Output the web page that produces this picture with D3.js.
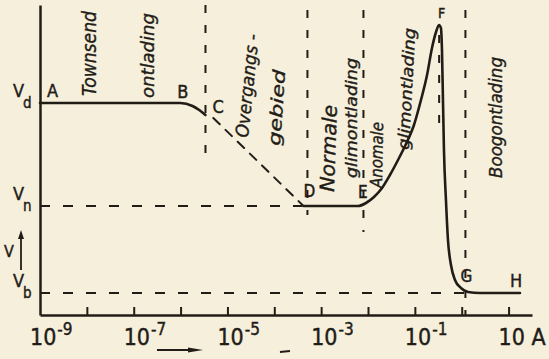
<!DOCTYPE html>
<html>
<head>
<meta charset="utf-8">
<script src="https://cdn.jsdelivr.net/npm/d3@7"></script>
<style>
  body { margin: 0; background: #f6efdc; }
  svg { display: block; }
  .lbl { font-family: "Liberation Sans Narrow", "DejaVu Sans Condensed", sans-serif; fill: #221c17; stroke: #221c17; stroke-width: 0.4; }
  .hand { font-family: "DejaVu Sans Condensed", "DejaVu Sans", sans-serif; font-style: italic; fill: #221c17; stroke: #221c17; stroke-width: 0.35; }
</style>
</head>
<body>
<div id="chart"></div>
<script>
// Discharge characteristic: current (A, log) against voltage (arbitrary units)

// Townsend ontlading A -> B -> C
const townsendI = [1e-9, 9.8e-7, 1.8e-6, 2.5e-6, 3.4e-6];
const townsendV = [21.2, 21.2, 20.9, 20.5, 20.0];

// overgangsgebied (dashed) C -> D
const overgangI = [5.0e-6, 4.0e-4];
const overgangV = [19.7, 11.0];

// glimontlading + boogontlading D -> E -> F -> G -> H
const glowI = [4.2e-4, 6.1e-3, 9.06e-3, 0.0134, 0.0199, 0.0294, 0.0437, 0.0646, 0.0957, 0.135,
               0.182, 0.232, 0.283, 0.327, 0.360, 0.379, 0.398, 0.418, 0.461, 0.509,
               0.590, 0.718, 0.964, 1.36, 2.45, 17.5];
const glowV = [10.9, 10.9, 11.2, 11.8, 12.7, 14.0, 15.5, 17.1, 19.0, 21.5,
               24.0, 26.7, 28.3, 29.0, 28.7, 26.5, 21.5, 16.5, 11.5, 7.5,
               5.0, 3.5, 2.7, 2.3, 2.2, 2.2];

// voltage levels V_d, V_n, V_b
const levelNames = ["d", "n", "b"];
const levelV = [21.2, 10.9, 2.2];
// dashed level lines (V_n, V_b) and where they stop
const dashLevelV = [10.9, 2.2];
const dashLevelEndI = [4.0e-4, 1.2];

// vertical dashed boundaries between regions
const boundaryI = [3.4e-6, 5.1e-4, 8.0e-3, 0.33, 1.2];
const boundaryTopV = [31, 30.5, 30.5, 28, 30.5];
const boundaryBottomV = [16.2, 10.0, 8.3, 18.5, 0];

// named points on the curve
const pointNames = ["A", "B", "C", "D", "E", "F", "G", "H"];
const pointI = [1e-9, 9.8e-7, 3.4e-6, 4.2e-4, 6.1e-3, 0.327, 1.2, 17.5];
const pointV = [21.2, 21.2, 20.0, 10.9, 10.9, 29.0, 2.2, 2.2];

// labelled decades on the current axis
const tickExp = [-9, -7, -5, -3, -1, 1];

// region names
const regionNames = ["Townsend", "ontlading", "Overgangs -", "gebied", "Normale",
                     "glimontlading", "Anomale", "glimontlading", "Boogontlading"];

const width = 549, height = 359;
const ink = "#221c17";

const svg = d3.select("#chart").append("svg")
    .attr("width", width)
    .attr("height", height);

const x = d3.scaleLog().domain([1e-9, Math.pow(10, 1.5)]).range([40, 532]);
const y = d3.scaleLinear().domain([0, 31]).range([315, 5]);

// axes
const decades = d3.range(-8, 2).map(e => Math.pow(10, e));
const xAxis = svg.append("g")
    .attr("transform", "translate(0," + y(0) + ")")
    .call(d3.axisBottom(x).tickValues(decades).tickSize(-8).tickSizeOuter(0).tickFormat(""));
const yAxis = svg.append("g")
    .attr("transform", "translate(" + x(1e-9) + ",0)")
    .call(d3.axisLeft(y).tickValues([]).tickSizeOuter(0));
[xAxis, yAxis].forEach(g => {
    g.select(".domain").attr("stroke", ink).attr("stroke-width", 2.5);
    g.selectAll(".tick line").attr("stroke", ink).attr("stroke-width", 2);
});

// dashed level lines
svg.selectAll(".level")
    .data(dashLevelV)
    .enter().append("line")
    .attr("x1", x(1e-9))
    .attr("x2", (d, i) => x(dashLevelEndI[i]))
    .attr("y1", d => y(d))
    .attr("y2", d => y(d))
    .attr("stroke", ink)
    .attr("stroke-width", 2)
    .attr("stroke-dasharray", "10,13");

// dashed boundaries
svg.selectAll(".boundary")
    .data(boundaryI)
    .enter().append("line")
    .attr("x1", d => x(d))
    .attr("x2", d => x(d))
    .attr("y1", (d, i) => y(boundaryTopV[i]))
    .attr("y2", (d, i) => y(boundaryBottomV[i]))
    .attr("stroke", ink)
    .attr("stroke-width", 2)
    .attr("stroke-dasharray", "8,12");

// curves
const line = d3.line()
    .x(d => x(d[0]))
    .y(d => y(d[1]))
    .curve(d3.curveMonotoneX);

function drawCurve(I, V, dash) {
    svg.append("path")
        .datum(I.map((v, i) => [v, V[i]]))
        .attr("d", line)
        .attr("fill", "none")
        .attr("stroke", ink)
        .attr("stroke-width", dash ? 2 : 2.6)
        .attr("stroke-linecap", "round")
        .attr("stroke-dasharray", dash ? "9,8" : null);
}
drawCurve(townsendI, townsendV, false);
drawCurve(overgangI, overgangV, true);
drawCurve(glowI, glowV, false);

// point labels (offsets from the point, in px)
const pointDx = [7, -3, 7, 0, 0, -1, -5, -10];
const pointDy = [-6, -5, -2, -9, -8, -7, -11, -6];
const pointSize = [18, 18, 18, 17, 17, 14, 17, 18];
svg.selectAll(".pt")
    .data(pointNames)
    .enter().append("text")
    .attr("class", "lbl")
    .attr("x", (d, i) => x(pointI[i]) + pointDx[i])
    .attr("y", (d, i) => y(pointV[i]) + pointDy[i])
    .attr("font-size", (d, i) => pointSize[i])
    .text(d => d);

// V_d, V_n, V_b on the left
const levels = svg.selectAll(".lev")
    .data(levelNames)
    .enter().append("text")
    .attr("class", "lbl")
    .attr("x", 13)
    .attr("y", (d, i) => y(levelV[i]) - 6)
    .attr("font-size", 18);
levels.append("tspan").text("V");
levels.append("tspan").attr("font-size", 15).attr("dy", 11).attr("dx", -1).text(d => d);

// V with an arrow
svg.append("text").attr("class", "lbl").attr("x", 4).attr("y", 257).attr("font-size", 16).text("V");
svg.append("line").attr("x1", 21).attr("x2", 21).attr("y1", 270).attr("y2", 236)
    .attr("stroke", ink).attr("stroke-width", 1.8);
svg.append("path").attr("d", "M18,239L21,230L24,239Z").attr("fill", ink);

// decade labels
const tl = svg.selectAll(".tl")
    .data(tickExp)
    .enter().append("text")
    .attr("class", "lbl")
    .attr("x", d => x(Math.pow(10, d)) - 10)
    .attr("y", 345)
    .attr("font-size", 23);
tl.append("tspan").text("10");
tl.filter(d => d < 0).append("tspan")
    .attr("font-size", 17).attr("dy", -10).attr("dx", 1)
    .text(d => "-" + (-d));
tl.filter(d => d > 0).append("tspan").text(" A");

// current arrow below the axis
svg.append("line").attr("x1", 157).attr("x2", 196).attr("y1", 350).attr("y2", 350)
    .attr("stroke", ink).attr("stroke-width", 1.8);
svg.append("path").attr("d", "M188,347.5L203,350L188,352.5Z").attr("fill", ink);
svg.append("line").attr("x1", 280).attr("x2", 290).attr("y1", 352).attr("y2", 351)
    .attr("stroke", ink).attr("stroke-width", 2);

// region names, rotated hand lettering
const regionPos = [
    {x: 96, y: 96, a: -90, L: 85, s: 20},
    {x: 154, y: 98, a: -90, L: 85, s: 18},
    {x: 248, y: 138, a: -84, L: 104, s: 18},
    {x: 280, y: 146, a: -86, L: 76, s: 17},
    {x: 334, y: 192, a: -88, L: 87, s: 20},
    {x: 357, y: 178, a: -90, L: 120, s: 16},
    {x: 382, y: 188, a: -89, L: 66, s: 17},
    {x: 409, y: 150, a: -87, L: 122, s: 16},
    {x: 502, y: 178, a: -90, L: 121, s: 18}
];
svg.selectAll(".region")
    .data(regionNames)
    .enter().append("text")
    .attr("class", "hand")
    .attr("transform", (d, i) => "translate(" + regionPos[i].x + "," + regionPos[i].y + ") rotate(" + regionPos[i].a + ")")
    .attr("font-size", (d, i) => regionPos[i].s)
    .attr("textLength", (d, i) => regionPos[i].L)
    .attr("lengthAdjust", "spacingAndGlyphs")
    .text(d => d);
</script>
</body>
</html>
